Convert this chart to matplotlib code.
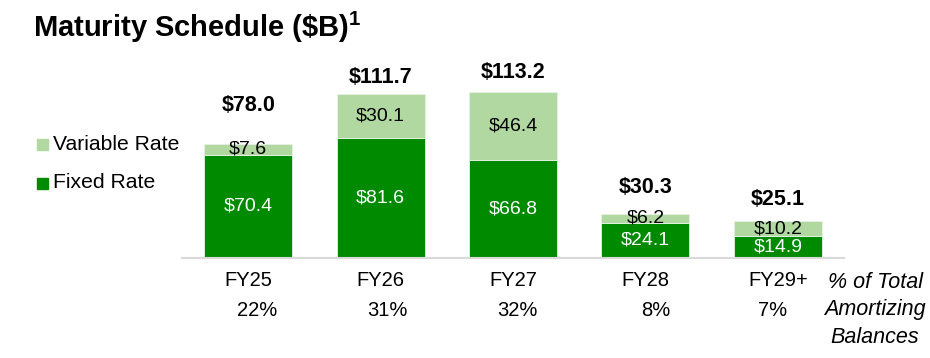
import matplotlib
matplotlib.use('Agg')
import matplotlib.pyplot as plt
from matplotlib.patches import Rectangle

# data
years = ['FY25', 'FY26', 'FY27', 'FY28', 'FY29+']
fixed = [70.4, 81.6, 66.8, 24.1, 14.9]
variable = [7.6, 30.1, 46.4, 6.2, 10.2]
totals = [78.0, 111.7, 113.2, 30.3, 25.1]
pct = ['22%', '31%', '32%', '8%', '7%']

plt.rcParams['font.family'] = ['Liberation Sans', 'DejaVu Sans']
plt.rcParams['mathtext.fontset'] = 'custom'
plt.rcParams['mathtext.bf'] = 'Liberation Sans:bold'
plt.rcParams['mathtext.rm'] = 'Liberation Sans'

DARK = '#008A00'
LIGHT = '#B0D8A0'

fig = plt.figure(figsize=(9.3, 3.58), dpi=100)
ax = fig.add_axes([182 / 930, 100 / 358, 662 / 930, 176 / 358])

x = range(len(years))
ax.bar(x, fixed, width=0.665, color=DARK, edgecolor='#E6F2E6', linewidth=0.6)
ax.bar(x, variable, bottom=fixed, width=0.665, color=LIGHT, edgecolor='#E6F2E6', linewidth=0.6)

ax.set_xlim(-0.5, 4.5)
ax.set_ylim(0, 120)
for s in ['top', 'left', 'right']:
    ax.spines[s].set_visible(False)
ax.spines['bottom'].set_color('#D9D9D9')
ax.spines['bottom'].set_linewidth(1.5)
ax.set_xticks([])
ax.set_yticks([])

# pixel offsets for total labels (as in the slide)
tot_off = [38, 17, 19, 26, 22]
pct_off = [9, 7, 4, 10, -5]

for i in x:
    ax.text(i, fixed[i] / 2, f'${fixed[i]:.1f}', ha='center', va='center',
            color='white', fontsize=14)
    ax.text(i, fixed[i] + variable[i] / 2, f'${variable[i]:.1f}', ha='center', va='center',
            color='black', fontsize=14)
    ax.annotate(f'${totals[i]:.1f}', xy=(i, fixed[i] + variable[i]),
                xytext=(0, tot_off[i] * 0.72), textcoords='offset points',
                ha='center', va='center', fontsize=15.5, fontweight='bold')
    ax.annotate(years[i], xy=(i, 0), xytext=(0, -23 * 0.72), textcoords='offset points',
                ha='center', va='center', fontsize=14.5, annotation_clip=False)
    ax.annotate(pct[i], xy=(i, 0), xytext=(pct_off[i] * 0.72, -52 * 0.72),
                textcoords='offset points', ha='center', va='center', fontsize=14.5,
                annotation_clip=False)

fig.text(875 / 930, 1 - 310 / 358, '% of Total\nAmortizing\nBalances', ha='center',
         va='center', fontsize=15.5, style='italic', linespacing=1.38)

# title
fig.text(33 / 930, 1 - 27 / 358, r'Maturity Schedule (\$B)$^{\mathbf{1}}$',
         ha='left', va='center', fontsize=21, fontweight='bold')

# legend
fig.add_artist(Rectangle((37 / 930, 1 - 150 / 358), 11 / 930, 11 / 358,
                         color=LIGHT, transform=fig.transFigure))
fig.text(53 / 930, 1 - 144 / 358, 'Variable Rate', ha='left', va='center', fontsize=15.2)
fig.add_artist(Rectangle((37 / 930, 1 - 189 / 358), 11 / 930, 11 / 358,
                         color=DARK, transform=fig.transFigure))
fig.text(53 / 930, 1 - 183 / 358, 'Fixed Rate', ha='left', va='center', fontsize=15.2)

fig.savefig('out.png', dpi=100)
